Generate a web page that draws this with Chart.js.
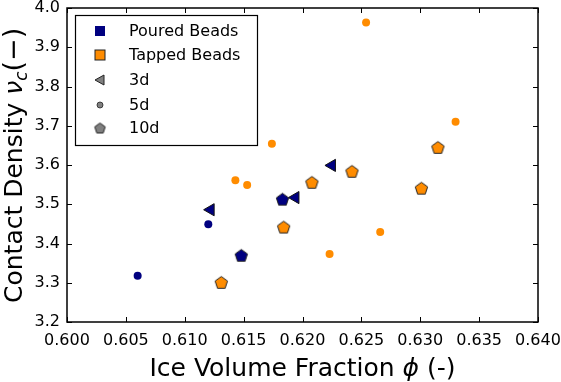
<!DOCTYPE html>
<html><head><meta charset="utf-8">
<script src="https://cdn.jsdelivr.net/npm/chart.js@4/dist/chart.umd.min.js"></script>
<style>html,body{margin:0;padding:0;background:#fff}</style>
</head><body>
<canvas id="c" width="561" height="382" style="display:block;width:561px;height:382px"></canvas>
<script>
// ---- data ----
const xTicks = [0.600, 0.605, 0.610, 0.615, 0.620, 0.625, 0.630, 0.635, 0.640];
const yTicks = [3.2, 3.3, 3.4, 3.5, 3.6, 3.7, 3.8, 3.9, 4.0];

const poured3dX = [0.6122, 0.6194, 0.6225];
const poured3dY = [3.486, 3.517, 3.599];
const poured5dX = [0.6060, 0.6120];
const poured5dY = [3.318, 3.449];
const poured10dX = [0.6148, 0.6183];
const poured10dY = [3.370, 3.513];

const tapped5dX = [0.6143, 0.6153, 0.6174, 0.6223, 0.6254, 0.6266, 0.6330];
const tapped5dY = [3.561, 3.549, 3.654, 3.373, 3.963, 3.429, 3.710];
const tapped10dX = [0.6131, 0.6184, 0.6208, 0.6242, 0.6301, 0.6315];
const tapped10dY = [3.301, 3.442, 3.556, 3.584, 3.541, 3.645];

const legendLabels = ['Poured Beads', 'Tapped Beads', '3d', '5d', '10d'];

const NAVY = '#000080', ORANGE = '#FF8C00', GRAY = '#808080';
const FONT = '"DejaVu Sans", sans-serif';

function pts(xs, ys) { return xs.map((x, i) => ({x: x, y: ys[i]})); }

function pentagon(fill, r, lw) {
  const s = Math.ceil(2 * r + lw + 3);
  const c = document.createElement('canvas'); c.width = s; c.height = s;
  const g = c.getContext('2d');
  const cy = s / 2 + r * 0.1;
  g.beginPath();
  for (let i = 0; i < 5; i++) {
    const a = -Math.PI / 2 + i * 2 * Math.PI / 5;
    const px = s / 2 + r * Math.cos(a), py = cy + r * Math.sin(a);
    if (i) g.lineTo(px, py); else g.moveTo(px, py);
  }
  g.closePath(); g.fillStyle = fill; g.fill();
  g.lineWidth = lw; g.strokeStyle = '#222'; g.stroke();
  return c;
}
const pentNavy = pentagon(NAVY, 6.5, 1);
const pentOrange = pentagon(ORANGE, 6.5, 1);

const datasets = [
  {data: pts(tapped5dX, tapped5dY), pointStyle: 'circle', pointRadius: 4, backgroundColor: ORANGE, borderColor: ORANGE, borderWidth: 0},
  {data: pts(tapped10dX, tapped10dY), pointStyle: pentOrange, pointRadius: 7},
  {data: pts(poured5dX, poured5dY), pointStyle: 'circle', pointRadius: 4, backgroundColor: NAVY, borderColor: NAVY, borderWidth: 0},
  {data: pts(poured10dX, poured10dY), pointStyle: pentNavy, pointRadius: 7},
  {data: pts(poured3dX, poured3dY), pointStyle: 'triangle', rotation: -90, pointRadius: 7, backgroundColor: NAVY, borderColor: '#111', borderWidth: 1}
];

const framePlugin = {
  id: 'frame',
  afterDraw(chart) {
    const ctx = chart.ctx, a = chart.chartArea;
    const xs = chart.scales.x, ys = chart.scales.y;
    ctx.save();
    // ticks inward on all sides
    ctx.strokeStyle = '#000'; ctx.lineWidth = 1;
    const TL = 5;
    xTicks.forEach(v => {
      const px = Math.round(xs.getPixelForValue(v)) + 0.5;
      ctx.beginPath();
      ctx.moveTo(px, a.bottom); ctx.lineTo(px, a.bottom - TL);
      ctx.moveTo(px, a.top); ctx.lineTo(px, a.top + TL);
      ctx.stroke();
    });
    yTicks.forEach(v => {
      const py = Math.round(ys.getPixelForValue(v)) + 0.5;
      ctx.beginPath();
      ctx.moveTo(a.left, py); ctx.lineTo(a.left + TL, py);
      ctx.moveTo(a.right, py); ctx.lineTo(a.right - TL, py);
      ctx.stroke();
    });
    // frame
    ctx.lineWidth = 1.5;
    ctx.strokeRect(a.left, a.top, a.right - a.left, a.bottom - a.top);

    // legend
    const lx = 75, ly = 15, lw = 182, lh = 130;
    ctx.fillStyle = '#fff'; ctx.fillRect(lx, ly, lw, lh);
    ctx.lineWidth = 1.2; ctx.strokeStyle = '#000';
    ctx.strokeRect(lx + 0.5, ly + 0.5, lw, lh);
    const rowsY = [31, 55, 80, 105, 128];
    const mx = 100;
    // poured square
    ctx.fillStyle = NAVY; ctx.fillRect(mx - 5, rowsY[0] - 5, 10, 10);
    // tapped square
    ctx.fillStyle = ORANGE; ctx.fillRect(mx - 5, rowsY[1] - 5, 10, 10);
    ctx.lineWidth = 1; ctx.strokeStyle = '#222'; ctx.strokeRect(mx - 5, rowsY[1] - 5, 10, 10);
    // 3d triangle
    ctx.beginPath();
    ctx.moveTo(mx - 5, rowsY[2]); ctx.lineTo(mx + 4, rowsY[2] - 5); ctx.lineTo(mx + 4, rowsY[2] + 5); ctx.closePath();
    ctx.fillStyle = GRAY; ctx.fill(); ctx.strokeStyle = '#222'; ctx.stroke();
    // 5d circle
    ctx.beginPath(); ctx.arc(mx, rowsY[3], 3, 0, Math.PI * 2);
    ctx.fill(); ctx.lineWidth = 0.8; ctx.stroke();
    // 10d pentagon
    const pg = pentagon(GRAY, 5.5, 1);
    ctx.drawImage(pg, mx - pg.width / 2, rowsY[4] - pg.height / 2);
    // text
    ctx.fillStyle = '#000'; ctx.font = '16px ' + FONT;
    ctx.textBaseline = 'middle'; ctx.textAlign = 'left';
    legendLabels.forEach((t, i) => ctx.fillText(t, 129, rowsY[i] + 1));

    // x title
    ctx.textBaseline = 'alphabetic';
    const n = '25px ' + FONT, it = 'italic 25px ' + FONT;
    const parts = [['Ice Volume Fraction ', n], ['\u03D5', it], [' (-)', n]];
    let tw = 0;
    parts.forEach(p => { ctx.font = p[1]; tw += ctx.measureText(p[0]).width; });
    let cx = (a.left + a.right) / 2 - tw / 2;
    parts.forEach(p => { ctx.font = p[1]; ctx.fillText(p[0], cx, 376); cx += ctx.measureText(p[0]).width; });

    // y title (rotated)
    ctx.save();
    ctx.translate(22, 303);
    ctx.rotate(-Math.PI / 2);
    const yparts = [['Contact Density ', n, 0], ['\u03BD', it, 0], ['c', 'italic 17px ' + FONT, 5], ['(\u2212)', '27px ' + FONT, 0]];
    let ox = 0;
    yparts.forEach(p => { ctx.font = p[1]; ctx.fillText(p[0], ox, p[2]); ox += ctx.measureText(p[0]).width; });
    ctx.restore();
    ctx.restore();
  }
};

new Chart(document.getElementById('c'), {
  type: 'scatter',
  data: {datasets: datasets},
  options: {
    responsive: false, animation: false, devicePixelRatio: 1,
    layout: {padding: {left: 0, top: 7, right: 23, bottom: 0}},
    plugins: {legend: {display: false}, tooltip: {enabled: false}},
    scales: {
      x: {
        type: 'linear', min: 0.600, max: 0.640,
        grid: {display: false, drawTicks: false}, border: {display: false},
        afterBuildTicks: s => { s.ticks = xTicks.map(v => ({value: v})); },
        afterFit: s => { s.height = 60; s.paddingLeft = 0; s.paddingRight = 0; },
        ticks: {autoSkip: false, maxRotation: 0, padding: 9, color: '#000', font: {family: FONT, size: 16},
          callback: v => Number(v).toFixed(3)}
      },
      y: {
        type: 'linear', min: 3.2, max: 4.0,
        grid: {display: false, drawTicks: false}, border: {display: false},
        afterBuildTicks: s => { s.ticks = yTicks.map(v => ({value: v})); },
        afterFit: s => { s.width = 67; s.paddingTop = 0; s.paddingBottom = 0; },
        ticks: {autoSkip: false, padding: 7, color: '#000', font: {family: FONT, size: 16},
          callback: v => Number(v).toFixed(1)}
      }
    }
  },
  plugins: [framePlugin]
});
</script>
</body></html>
